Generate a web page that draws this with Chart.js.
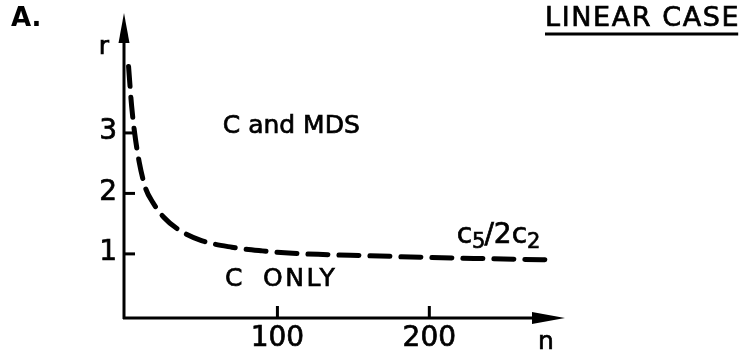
<!DOCTYPE html>
<html>
<head>
<meta charset="utf-8">
<script src="https://cdn.jsdelivr.net/npm/chart.js@4/dist/chart.umd.min.js"></script>
<style>
  body { margin: 0; background: #fff; }
  #container { width: 750px; height: 358px; }
</style>
</head>
<body>
<div id="container">
    <canvas id="LineChart" width="750" height="358"></canvas>
</div>

<script>
    // curve c5/2c2
    var nValues = [2, 4, 6, 9, 13, 18, 25, 35, 50, 70, 90, 110, 130, 160, 200, 240, 282];
    var rValues = [4.1, 3.45, 3.0, 2.52, 2.1, 1.85, 1.61, 1.4, 1.22, 1.11, 1.05, 1.01, 0.99, 0.97, 0.94, 0.92, 0.9];

    var xTicks = [100, 200];
    var yTicks = [1, 2, 3];

    var points = nValues.map(function(n, i){ return {x: n, y: rValues[i]}; });

    var font = '"DejaVu Sans", sans-serif';

    // heavier text, like the inked original
    function ink(ctx, txt, x, y){
        ctx.fillText(txt, x, y);
        ctx.lineWidth = 0.7;
        ctx.strokeText(txt, x, y);
    }

    // axes with arrows, ticks and text drawn from the chart's own scales
    var sketchAxes = {
        id: 'sketchAxes',
        afterDraw: function(chart){
            var ctx = chart.ctx;
            var xs = chart.scales.x, ys = chart.scales.y;
            var area = chart.chartArea;
            var x0 = area.left, y0 = area.bottom;

            ctx.save();
            ctx.strokeStyle = '#000';
            ctx.fillStyle = '#000';
            ctx.lineCap = 'butt';

            // y axis
            ctx.lineWidth = 3;
            ctx.beginPath();
            ctx.moveTo(x0, y0 + 1);
            ctx.lineTo(x0, area.top + 20);
            ctx.stroke();
            ctx.beginPath();
            ctx.moveTo(x0, area.top - 2);
            ctx.lineTo(x0 - 5.5, area.top + 28);
            ctx.lineTo(x0 + 5.5, area.top + 28);
            ctx.closePath();
            ctx.fill();

            // x axis
            ctx.beginPath();
            ctx.moveTo(x0 - 1, y0);
            ctx.lineTo(area.right - 20, y0);
            ctx.stroke();
            ctx.beginPath();
            ctx.moveTo(area.right + 2, y0);
            ctx.lineTo(area.right - 31, y0 - 6);
            ctx.lineTo(area.right - 31, y0 + 6);
            ctx.closePath();
            ctx.fill();

            ctx.font = '28px ' + font;
            ctx.textBaseline = 'middle';

            yTicks.forEach(function(v){
                var py = ys.getPixelForValue(v);
                ctx.lineWidth = 3;
                ctx.beginPath();
                ctx.moveTo(x0, py);
                ctx.lineTo(x0 + 11, py);
                ctx.stroke();
                ctx.textAlign = 'right';
                ink(ctx, String(v), x0 - 7, py - 1);
            });

            xTicks.forEach(function(v){
                var px = xs.getPixelForValue(v);
                ctx.lineWidth = 3;
                ctx.beginPath();
                ctx.moveTo(px, y0);
                ctx.lineTo(px, y0 - 12);
                ctx.stroke();
                ctx.textAlign = 'center';
                ink(ctx, String(v), px, y0 + 21);
            });

            // axis names
            ctx.font = '25px ' + font;
            ctx.textAlign = 'center';
            ink(ctx, 'r', x0 - 20, area.top + 32);
            ink(ctx, 'n', area.right - 17, y0 + 24);

            // region labels
            ctx.textAlign = 'left';
            ink(ctx, 'C and MDS', xs.getPixelForValue(64), ys.getPixelForValue(3.1));
            var cx = xs.getPixelForValue(65.5), cy = ys.getPixelForValue(0.57);
            ink(ctx, 'C', cx, cy);
            ctx.letterSpacing = '2.5px';
            ink(ctx, 'ONLY', cx + 38, cy);
            ctx.letterSpacing = '0px';

            // curve label c5/2c2
            var lx = xs.getPixelForValue(218), ly = ys.getPixelForValue(1.3);
            ctx.font = '28px ' + font;
            ink(ctx, 'c', lx, ly);
            var w = ctx.measureText('c').width;
            ctx.font = '21px ' + font;
            ink(ctx, '5', lx + w, ly + 7);
            w += ctx.measureText('5').width - 1;
            ctx.font = '28px ' + font;
            ink(ctx, '/2c', lx + w, ly);
            w += ctx.measureText('/2c').width;
            ctx.font = '21px ' + font;
            ink(ctx, '2', lx + w, ly + 7);

            // panel letter and title
            ctx.font = 'bold 26px ' + font;
            ctx.fillText('A.', 11, 19);
            ctx.font = '27px ' + font;
            ctx.letterSpacing = '1.6px';
            ink(ctx, 'LINEAR CASE', 545, 19);
            var tw = ctx.measureText('LINEAR CASE').width;
            ctx.letterSpacing = '0px';
            ctx.lineWidth = 3;
            ctx.beginPath();
            ctx.moveTo(545, 34);
            ctx.lineTo(545 + tw - 2, 34);
            ctx.stroke();

            ctx.restore();
        }
    };

    var ctxL = document.getElementById("LineChart").getContext('2d');
    var myLineChart = new Chart(ctxL, {
        type: 'line',
        data: {
            datasets: [
                {
                    label: "c5/2c2",
                    data: points,
                    borderColor: '#000',
                    borderWidth: 5,
                    borderDash: [20, 11],
                    borderCapStyle: 'round',
                    pointRadius: 0,
                    fill: false,
                    cubicInterpolationMode: 'monotone'
                }
            ]
        },
        options: {
            responsive: false,
            animation: false,
            layout: {
                padding: { left: 124, right: 187, top: 15, bottom: 40 }
            },
            plugins: {
                legend: { display: false },
                tooltip: { enabled: false }
            },
            scales: {
                x: { type: 'linear', min: -1, max: 288, display: false },
                y: { type: 'linear', min: -0.06, max: 4.95, display: false }
            }
        },
        plugins: [sketchAxes]
    });
</script>
</body>
</html>
